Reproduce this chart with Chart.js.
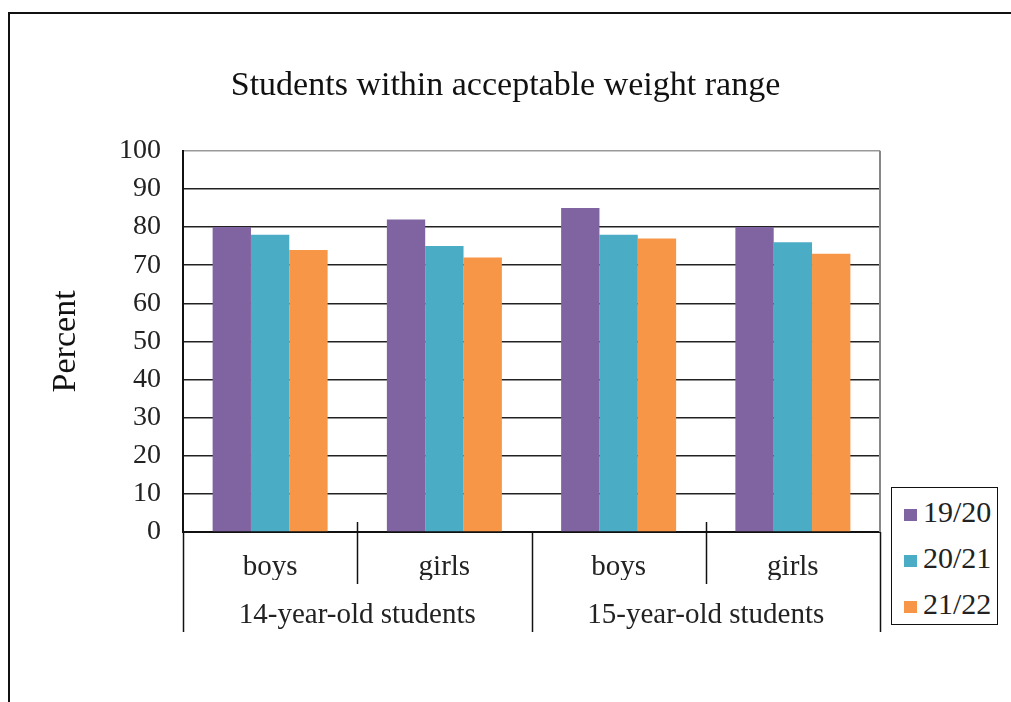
<!DOCTYPE html>
<html>
<head>
<meta charset="utf-8">
<script src="https://cdn.jsdelivr.net/npm/chart.js@4"></script>
<style>
  body { margin: 0; background: #fff; }
  #wrap { position: relative; width: 1011px; height: 702px; overflow: hidden; }
  #frame { position: absolute; left: 8px; top: 12px; width: 1100px; height: 800px; border: 2px solid #111; box-sizing: border-box; }
  #chart { position: absolute; left: 0; top: 0; }
  #legend { position: absolute; left: 891px; top: 487px; width: 107px; height: 138px; box-sizing: border-box;
            border: 1.5px solid #111; background: #fff; font-family: "Liberation Serif", serif; font-size: 30px; color: #222; }
  #legend div { position: absolute; left: 12px; height: 30px; line-height: 30px; }
  #legend span { display: inline-block; width: 13px; height: 12px; margin-right: 6px; vertical-align: 1px; }
</style>
</head>
<body>
<div id="wrap">
  <div id="frame"></div>
  <canvas id="chart" width="1011" height="702"></canvas>
  <div id="legend"></div>
</div>
<script>
// 数据
const categories = ['boys', 'girls', 'boys', 'girls'];
const groups = ['14-year-old students', '15-year-old students'];
const seriesNames = ['19/20', '20/21', '21/22'];
const values1920 = [80, 82, 85, 80];
const values2021 = [78, 75, 78, 76];
const values2122 = [74, 72, 77, 73];
const seriesColors = ['#8064A2', '#4BACC6', '#F79646'];

const serif = '"Liberation Serif", "Times New Roman", serif';

// 分隔线和边框
const separatorPlugin = {
    id: 'separators',
    afterDraw(chart) {
        const ctx = chart.ctx;
        const area = chart.chartArea;
        const step = (area.right - area.left) / categories.length;
        ctx.save();
        // 右边框
        ctx.strokeStyle = '#888';
        ctx.lineWidth = 2;
        ctx.beginPath();
        ctx.moveTo(area.right, area.top);
        ctx.lineTo(area.right, area.bottom);
        ctx.stroke();
        ctx.strokeStyle = '#111';
        ctx.lineWidth = 1.5;
        for (let i = 0; i <= categories.length; i++) {
            const x = Math.round(area.left + step * i) + 0.5;
            ctx.beginPath();
            if (i % 2 === 0) {
                ctx.moveTo(x, area.bottom);
                ctx.lineTo(x, area.bottom + 100);
            } else {
                ctx.moveTo(x, area.bottom - 10);
                ctx.lineTo(x, area.bottom + 52);
            }
            ctx.stroke();
        }
        ctx.restore();
    }
};

const ctx = document.getElementById('chart').getContext('2d');
const chart = new Chart(ctx, {
    type: 'bar',
    data: {
        labels: categories,
        datasets: [
            { label: seriesNames[0], data: values1920, backgroundColor: seriesColors[0] },
            { label: seriesNames[1], data: values2021, backgroundColor: seriesColors[1] },
            { label: seriesNames[2], data: values2122, backgroundColor: seriesColors[2] }
        ]
    },
    options: {
        responsive: false,
        animation: false,
        categoryPercentage: 0.66,
        barPercentage: 1.0,
        layout: { padding: { left: 10, right: 10, top: 0, bottom: 70 } },
        plugins: {
            legend: { display: false },
            tooltip: { enabled: false },
            title: {
                display: true,
                text: 'Students within acceptable weight range',
                color: '#111',
                font: { family: serif, size: 34, weight: 'normal' },
                padding: { top: 66, bottom: 44 }
            }
        },
        scales: {
            x: {
                grid: { display: false, drawTicks: false },
                border: { display: true, color: '#111', width: 2 },
                ticks: { color: '#222', padding: 18, font: { family: serif, size: 29 } },
                afterFit(scale) { scale.height = 48; }
            },
            x2: {
                type: 'category',
                labels: groups,
                position: 'bottom',
                grid: { display: false, drawTicks: false },
                border: { display: false },
                ticks: { color: '#222', padding: 18, font: { family: serif, size: 29 } },
                afterFit(scale) { scale.height = 52; }
            },
            y: {
                min: 0,
                max: 100,
                ticks: { stepSize: 10, autoSkip: false, color: '#222', padding: 22, font: { family: serif, size: 28 } },
                grid: {
                    drawTicks: false,
                    color: (c) => c.tick && c.tick.value === 100 ? '#999' : '#222',
                    lineWidth: 1.5
                },
                border: { display: true, color: '#111', width: 2 },
                title: {
                    display: true,
                    text: 'Percent',
                    color: '#111',
                    font: { family: serif, size: 34 },
                    padding: { top: 36, bottom: 0 }
                },
                afterFit(scale) { scale.width = 173; }
            },
            yR: {
                position: 'right',
                display: true,
                grid: { display: false },
                border: { display: false },
                ticks: { display: false },
                afterFit(scale) { scale.width = 121; }
            }
        }
    },
    plugins: [separatorPlugin]
});

// 图例
const legendEl = document.getElementById('legend');
seriesNames.forEach((name, i) => {
    const item = document.createElement('div');
    item.style.top = (9 + i * 46) + 'px';
    item.innerHTML = '<span style="background:' + seriesColors[i] + '"></span>' + name;
    legendEl.appendChild(item);
});
</script>
</body>
</html>
